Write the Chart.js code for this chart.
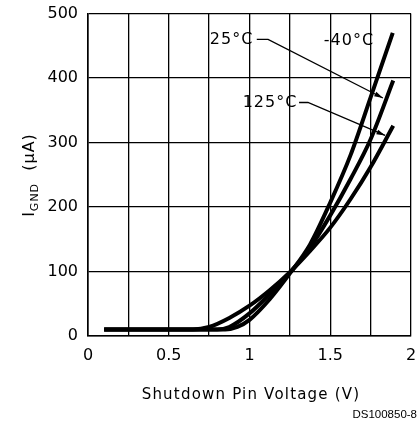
<!DOCTYPE html>
<html>
<head>
<meta charset="utf-8">
<script src="https://cdn.jsdelivr.net/npm/chart.js@4.4.0/dist/chart.umd.min.js"></script>
<style>
  html, body { margin: 0; padding: 0; background: #fff; }
  #wrap { width: 418px; height: 421px; position: relative; }
</style>
</head>
<body>
<div id="wrap"><canvas id="myChart"></canvas></div>
<script>
// curves: shutdown pin voltage (V) vs ground current (uA)
const v125 = [0.1, 0.65, 0.75, 0.875, 1.0, 1.125, 1.25, 1.375, 1.5, 1.625, 1.75, 1.89];
const i125 = [10, 10, 14, 28, 47, 71, 99, 132, 168, 212, 262, 326];

const v25 = [0.1, 0.8, 0.875, 1.0, 1.125, 1.25, 1.375, 1.5, 1.625, 1.75, 1.89];
const i25 = [10, 10, 14, 35, 65, 98, 137, 187, 243, 305, 396];

const vm40 = [0.1, 0.85, 0.925, 1.0, 1.125, 1.25, 1.375, 1.5, 1.625, 1.75, 1.887];
const im40 = [10, 10, 14, 25, 57, 97, 142, 207, 280, 370, 470];

const xTickLabels = ['0', '0.5', '1', '1.5', '2'];
const yTickLabels = ['0', '100', '200', '300', '400', '500'];

const seriesNames = ['125°C', '25°C', '-40°C'];

const toPoints = (xs, ys) => xs.map((x, i) => ({ x: x, y: ys[i] }));

const font = '"DejaVu Sans", sans-serif';

// labels and leaders, in data units
const labels = [
  { text: '25°C', x: 0.889, y: 459, leader: [[1.045, 460], [1.115, 460], [1.826, 369]] },
  { text: '-40°C', x: 1.616, y: 457, leader: null },
  { text: '125°C', x: 1.127, y: 361, leader: [[1.307, 362], [1.362, 362], [1.84, 311]] }
];

const extras = {
  id: 'extras',
  afterDraw(chart) {
    const ctx = chart.ctx;
    const xs = chart.scales.x, ys = chart.scales.y;
    ctx.save();
    ctx.fillStyle = '#000';
    ctx.strokeStyle = '#000';

    // curve labels and arrows
    ctx.font = '16px ' + font;
    ctx.letterSpacing = '1px';
    ctx.textAlign = 'center';
    ctx.textBaseline = 'middle';
    labels.forEach(l => {
      ctx.fillText(l.text, xs.getPixelForValue(l.x), ys.getPixelForValue(l.y));
      if (!l.leader) return;
      const pts = l.leader.map(p => [xs.getPixelForValue(p[0]), ys.getPixelForValue(p[1])]);
      ctx.lineWidth = 1.3;
      ctx.beginPath();
      ctx.moveTo(pts[0][0], pts[0][1]);
      for (let k = 1; k < pts.length; k++) ctx.lineTo(pts[k][0], pts[k][1]);
      ctx.stroke();
      const a = pts[pts.length - 2], b = pts[pts.length - 1];
      const ang = Math.atan2(b[1] - a[1], b[0] - a[0]);
      ctx.beginPath();
      ctx.moveTo(b[0], b[1]);
      ctx.lineTo(b[0] - 9 * Math.cos(ang - 0.28), b[1] - 9 * Math.sin(ang - 0.28));
      ctx.lineTo(b[0] - 9 * Math.cos(ang + 0.28), b[1] - 9 * Math.sin(ang + 0.28));
      ctx.closePath();
      ctx.fill();
    });

    // x axis title
    ctx.font = '15px ' + font;
    ctx.letterSpacing = '1.2px';
    ctx.textAlign = 'center';
    ctx.textBaseline = 'middle';
    ctx.fillText('Shutdown Pin Voltage (V)', 251, 395);

    // y axis title with subscript
    ctx.translate(28, 175);
    ctx.rotate(-Math.PI / 2);
    const big = '16px ' + font, small = '11px ' + font;
    ctx.letterSpacing = '1px';
    ctx.font = big;
    const wI = ctx.measureText('I').width;
    const wU = ctx.measureText('  (µA)').width;
    ctx.font = small;
    const wG = ctx.measureText('GND').width;
    let x0 = -(wI + wG + wU) / 2;
    ctx.textAlign = 'left';
    ctx.textBaseline = 'alphabetic';
    ctx.font = big;
    ctx.fillText('I', x0, 6);
    ctx.font = small;
    ctx.fillText('GND', x0 + wI, 10);
    ctx.font = big;
    ctx.fillText('  (µA)', x0 + wI + wG, 6);
    ctx.restore();

    // figure number
    ctx.save();
    ctx.font = '11.5px "Liberation Sans", Arial, sans-serif';
    ctx.textAlign = 'right';
    ctx.textBaseline = 'alphabetic';
    ctx.fillStyle = '#000';
    ctx.fillText('DS100850-8', 417, 418);
    ctx.restore();
  }
};

const curve = (name, xs, ys) => ({
  label: name,
  data: toPoints(xs, ys),
  borderColor: '#000',
  borderWidth: 4,
  pointRadius: 0,
  fill: false,
  cubicInterpolationMode: 'monotone'
});

new Chart(document.getElementById('myChart'), {
  type: 'line',
  data: {
    datasets: [
      curve(seriesNames[0], v125, i125),
      curve(seriesNames[1], v25, i25),
      curve(seriesNames[2], vm40, im40)
    ]
  },
  options: {
    responsive: true,
    maintainAspectRatio: false,
    animation: false,
    layout: { padding: { left: 0, right: 7, top: 13.5, bottom: 0 } },
    plugins: { legend: { display: false }, tooltip: { enabled: false } },
    scales: {
      x: {
        type: 'linear',
        min: 0,
        max: 2,
        afterFit: s => { s.height = 85; s.paddingLeft = 0; s.paddingRight = 0; },
        ticks: {
          stepSize: 0.25,
          padding: 10,
          color: '#000',
          font: { family: font, size: 16 },
          callback: v => {
            const k = Math.round(v / 0.5);
            return Math.abs(v - k * 0.5) < 1e-6 ? xTickLabels[k] : '';
          }
        },
        grid: { color: '#000', lineWidth: 1.3, drawTicks: false },
        border: { color: '#000', width: 1.6 }
      },
      y: {
        min: 0,
        max: 500,
        afterFit: s => { s.width = 88; s.paddingTop = 0; s.paddingBottom = 0; },
        ticks: {
          stepSize: 100,
          padding: 10,
          color: '#000',
          font: { family: font, size: 16 },
          callback: v => yTickLabels[Math.round(v / 100)]
        },
        grid: { color: '#000', lineWidth: 1.3, drawTicks: false },
        border: { color: '#000', width: 1.6 }
      }
    }
  },
  plugins: [extras]
});
</script>
</body>
</html>
